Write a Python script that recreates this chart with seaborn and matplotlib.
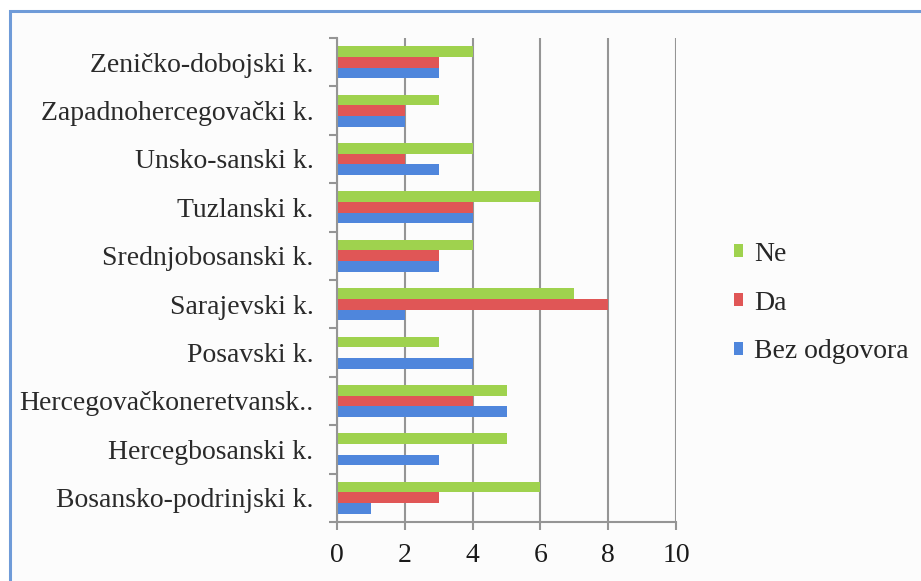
import numpy as np
import pandas as pd
import matplotlib.pyplot as plt
import seaborn as sns
from matplotlib.patches import Rectangle

# Data (top to bottom, as in the chart)
kantoni = ["Zeničko-dobojski k.", "Zapadnohercegovački k.", "Unsko-sanski k.", "Tuzlanski k.",
           "Srednjobosanski k.", "Sarajevski k.", "Posavski k.", "Hercegovačkoneretvansk..",
           "Hercegbosanski k.", "Bosansko-podrinjski k."]
ne = [4, 3, 4, 6, 4, 7, 3, 5, 5, 6]
da = [3, 2, 2, 4, 3, 8, 0, 4, 0, 3]
bez_odgovora = [3, 2, 3, 4, 3, 2, 4, 5, 3, 1]
serije = ["Ne", "Da", "Bez odgovora"]
boje = ["#9fd24e", "#e05656", "#4f86dc"]
x_ticks = [0, 2, 4, 6, 8, 10]

df = pd.DataFrame({
    "kanton": kantoni * 3,
    "broj": ne + da + bez_odgovora,
    "odgovor": ["Ne"] * 10 + ["Da"] * 10 + ["Bez odgovora"] * 10,
})

sns.set_style("white")
plt.rcParams['font.family'] = ['Liberation Serif', 'DejaVu Serif']

fig = plt.figure(figsize=(9.21, 5.81), dpi=100)
fig.patch.set_facecolor("white")
# chart frame
fig.patches.append(Rectangle((10 / 921, -0.05), 1.0, 1 - 11 / 581 + 0.05, transform=fig.transFigure,
                             facecolor="#fcfcfc", edgecolor="#6f9bd8", linewidth=2.2, zorder=-5))

ax = fig.add_axes([337 / 921, 1 - 522 / 581, (676 - 337) / 921, (522 - 38) / 581])
ax.set_facecolor("#fcfcfc")
sns.barplot(data=df, y="kanton", x="broj", hue="odgovor", orient="h", order=kantoni,
            hue_order=serije, palette=boje, width=0.66, ax=ax, saturation=1, linewidth=0)

ax.set_xlim(0, 10)
ax.set_ylim(9.5, -0.5)
ax.set_xticks(x_ticks)
ax.set_xlabel("")
ax.set_ylabel("")
ax.xaxis.grid(True, color="#959595", linewidth=1.5)
ax.set_axisbelow(True)
for s in ["top", "right"]:
    ax.spines[s].set_visible(False)
for s in ["left", "bottom"]:
    ax.spines[s].set_color("#959595")
    ax.spines[s].set_linewidth(1.5)

ax.tick_params(axis="x", which="major", length=6, width=1.5, color="#959595", bottom=True,
               labelsize=20, pad=9, labelcolor="#1a1a1a")
ax.tick_params(axis="y", which="major", length=0, labelsize=20, pad=17, labelcolor="#2a2a2a")
ax.set_yticks(np.arange(-0.5, 10, 1), minor=True)
ax.tick_params(axis="y", which="minor", length=6, width=1.5, color="#959595", left=True)

handles, labels = ax.get_legend_handles_labels()
ax.legend(handles, labels, loc="center left", bbox_to_anchor=(734 / 921, 1 - 303 / 581),
          bbox_transform=fig.transFigure, frameon=False, fontsize=20, handlelength=0.33,
          handleheight=0.33, handletextpad=0.4, labelspacing=0.86, borderpad=0,
          borderaxespad=0)

fig.savefig("out.png", dpi=100, facecolor=fig.get_facecolor())
